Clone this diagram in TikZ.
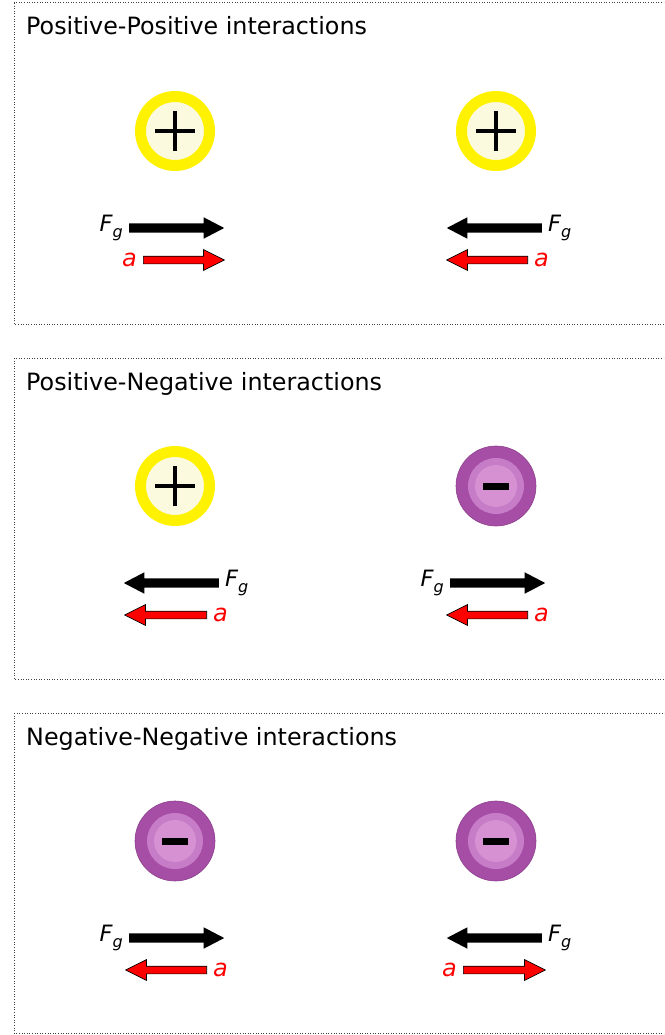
\documentclass[tikz,border=0pt]{standalone}
\usepackage{fontspec}
\setmainfont{DejaVu Sans}
\usetikzlibrary{positioning}
\usetikzlibrary{shapes.arrows}

\definecolor{paleyellow}{HTML}{FBFADF}
\definecolor{purpleout}{HTML}{A64DA6}
\definecolor{purplemid}{HTML}{C77CC7}
\definecolor{purplein}{HTML}{D591D2}

\newcommand{\Fg}{F\raisebox{-0.28em}{\fontsize{16}{16}\selectfont g}}

\tikzset{
  frame/.style={draw=black!75, line width=1pt, dash pattern=on 1pt off 1.6pt},
  heading/.style={anchor=base west, inner sep=0pt, font=\fontsize{23.8}{28}\selectfont},
  poscharge/.style={circle, draw=yellow, fill=paleyellow, line width=11pt, minimum size=69pt, inner sep=0pt,
    path picture={\draw[black, line width=4.6pt]
      ([xshift=-20pt]path picture bounding box.center) -- ([xshift=20pt]path picture bounding box.center)
      ([yshift=-20pt]path picture bounding box.center) -- ([yshift=20pt]path picture bounding box.center);}},
  negcharge/.style={circle, fill=purpleout, draw=purpleout!85!black, line width=0.6pt, minimum size=80pt, inner sep=0pt,
    path picture={\fill[purplemid] (path picture bounding box.center) circle (28pt);
      \fill[purplein] (path picture bounding box.center) circle (21pt);
      \fill[black] ([shift={(-13pt,-3.5pt)}]path picture bounding box.center) rectangle ([shift={(13pt,3.5pt)}]path picture bounding box.center);}},
  force/.style={single arrow, anchor=tail, fill=black, inner xsep=0pt, inner ysep=4.5pt, single arrow head extend=6pt,
    single arrow tip angle=55, minimum height=95pt},
  accel/.style={single arrow, anchor=tail, fill=red, draw=black, line width=0.7pt, inner xsep=0pt, inner ysep=3.5pt,
    single arrow head extend=6.5pt, single arrow tip angle=53, minimum height=81pt},
  toleft/.style={shape border rotate=180},
  flabel/.style={inner sep=1pt, font=\fontsize{22.5}{26}\selectfont\itshape},
  alabel/.style={inner sep=1pt, text=red, font=\fontsize{24}{28}\selectfont\itshape},
}

\begin{document}
\begin{tikzpicture}[x=1pt, y=-1pt]
    \useasboundingbox (0,0) rectangle (664,1035);
    \clip (0,0) rectangle (664,1035);
    % Positive-Positive
    \draw[frame] (14,3) rectangle (680,324);
    \node[heading] (h1) at (26,35) {Positive-Positive interactions};
    \node[poscharge] (q1) at (175,131) {};
    \node[poscharge] (q2) at (496,131) {};
    \node[force] (f1) at (129,228) {}; % Force arrow
    \node[flabel, left=5pt of f1] (fl1) {\Fg};
    \node[accel] (a1) at (143,260) {}; % Acceleration arrow
    \node[alabel, left=5pt of a1] (al1) {a};
    \node[force, toleft] (f2) at (542,228) {};
    \node[flabel, right=5pt of f2] (fl2) {\Fg};
    \node[accel, toleft] (a2) at (528,260) {};
    \node[alabel, right=5pt of a2] (al2) {a};
    % Positive-Negative
    \draw[frame] (14,358) rectangle (680,679);
    \node[heading] (h2) at (26,390) {Positive-Negative interactions};
    \node[poscharge] (q3) at (175,486) {};
    \node[negcharge] (q4) at (496,486) {};
    \node[force, toleft] (f3) at (219,583) {};
    \node[flabel, right=5pt of f3] (fl3) {\Fg};
    \node[accel, toleft, minimum height=82pt] (a3) at (207,615) {};
    \node[alabel, right=5pt of a3] (al3) {a};
    \node[force] (f4) at (450,583) {};
    \node[flabel, left=5pt of f4] (fl4) {\Fg};
    \node[accel, toleft] (a4) at (528,615) {};
    \node[alabel, right=5pt of a4] (al4) {a};
    % Negative-Negative
    \draw[frame] (14,713) rectangle (680,1033);
    \node[heading] (h3) at (26,745) {Negative-Negative interactions};
    \node[negcharge] (q5) at (175,841) {};
    \node[negcharge] (q6) at (496,841) {};
    \node[force] (f5) at (129,938) {};
    \node[flabel, left=5pt of f5] (fl5) {\Fg};
    \node[accel, toleft] (a5) at (207,970) {};
    \node[alabel, right=5pt of a5] (al5) {a};
    \node[force, toleft] (f6) at (542,938) {};
    \node[flabel, right=5pt of f6] (fl6) {\Fg};
    \node[accel, minimum height=82pt] (a6) at (463,970) {};
    \node[alabel, left=5pt of a6] (al6) {a};
\end{tikzpicture}
\end{document}
